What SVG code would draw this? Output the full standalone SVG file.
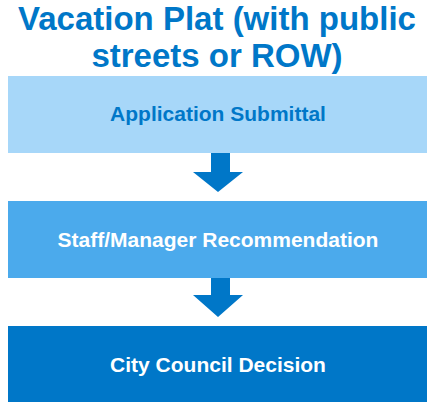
<svg xmlns="http://www.w3.org/2000/svg" width="427" height="402" viewBox="0 0 427 402">
<style>
text{font-family:"Liberation Sans",Arial,sans-serif;font-weight:bold;text-anchor:middle}
.title{font-size:33px;fill:#0077C8}
.lbl{font-size:21px}
.arrow{fill:#0077C8}
</style>
<rect width="427" height="402" fill="#fff"/>
<g id="title">
<text class="title" x="217" y="30">Vacation Plat (with public</text>
<text class="title" x="217" y="67">streets or ROW)</text>
</g>
<g id="node-application">
<rect x="8" y="76" width="419" height="77" fill="#A7D7F9"/>
<text class="lbl" x="218" y="121" fill="#0077C8">Application Submittal</text>
</g>
<g id="node-staff">
<rect x="8" y="201" width="419" height="77" fill="#4BAAEC"/>
<text class="lbl" x="218" y="247" fill="#fff">Staff/Manager Recommendation</text>
</g>
<g id="node-council">
<rect x="8" y="326" width="419" height="76" fill="#0077C8"/>
<text class="lbl" x="218" y="372" fill="#fff">City Council Decision</text>
</g>
<g id="connectors">
<polygon class="arrow" points="211,153 230,153 230,172 243,172 218,192 193,172 211,172"/>
<polygon class="arrow" points="211,278 230,278 230,295 243,295 218,317 193,295 211,295"/>
</g>
</svg>
